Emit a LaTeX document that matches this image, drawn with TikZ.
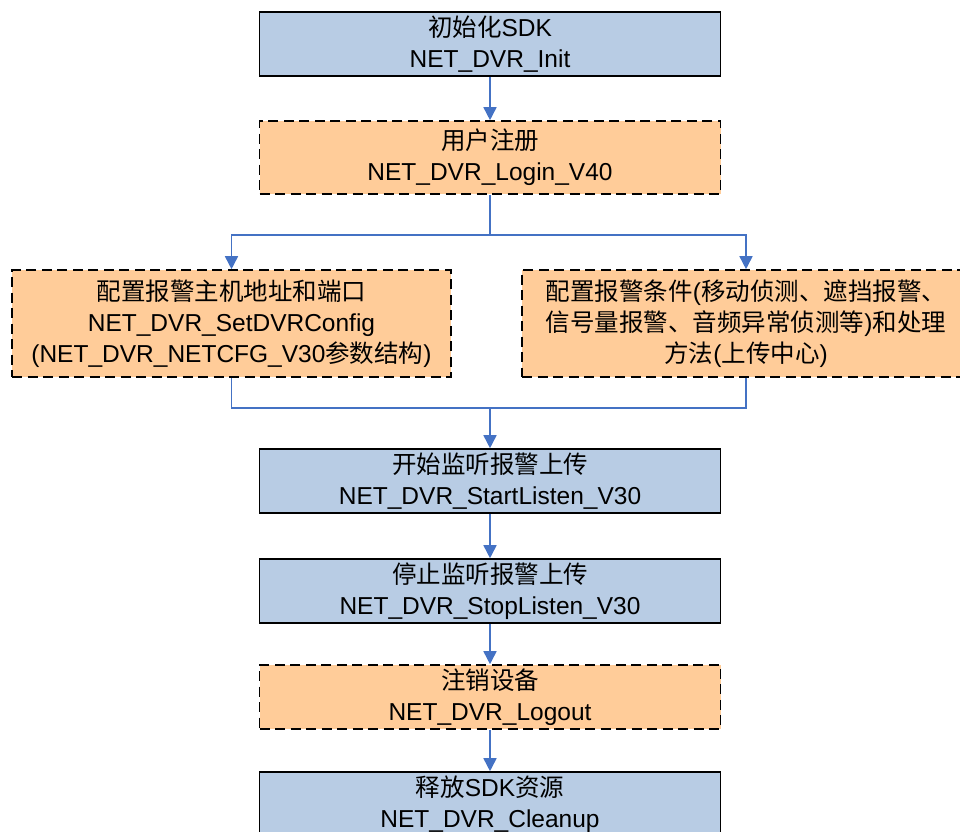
\documentclass[tikz,border=0pt]{standalone}
\usepackage{fontspec}
\setmainfont{Liberation Sans}
\newfontfamily\cjk{Noto Sans CJK SC}
\usetikzlibrary{arrows.meta}
\definecolor{boxblue}{HTML}{B8CCE4}
\definecolor{boxorange}{HTML}{FFCC99}
\definecolor{linkblue}{HTML}{4472C4}
\newcommand{\zh}[1]{{\cjk #1}}
\begin{document}
\begin{tikzpicture}[x=1pt,y=-1pt,
  solidbox/.style={draw=black, line width=1.6pt, fill=boxblue, align=center,
    inner sep=0pt, font=\fontsize{24.5}{31}\selectfont},
  dashbox/.style={solidbox, fill=boxorange, dash pattern=on 10pt off 5.5pt},
  link/.style={draw=linkblue, line width=1.6pt},
  arr/.style={link, -{Triangle[width=13pt,length=13pt]}}]
\useasboundingbox (0,0) rectangle (960,831);
\clip (0,0) rectangle (960,831);

\node[solidbox, minimum width=461pt, minimum height=64pt] (b1) at (490,44)
  {\zh{初始化}SDK\\NET\_DVR\_Init};
\node[dashbox, minimum width=461pt, minimum height=73pt] (b2) at (490,157.5)
  {\zh{用户注册}\\NET\_DVR\_Login\_V40};
\node[dashbox, minimum width=439pt, minimum height=107pt] (b3) at (231.5,323.5)
  {\zh{配置报警主机地址和端口}\\NET\_DVR\_SetDVRConfig\\(NET\_DVR\_NETCFG\_V30\zh{参数结构})};
\node[dashbox, minimum width=448pt, minimum height=107pt] (b3r) at (746,323.5)
  {\zh{配置报警条件}(\zh{移动侦测、遮挡报警、}\\\zh{信号量报警、音频异常侦测等})\zh{和处理}\\\zh{方法}(\zh{上传中心})};
\node[solidbox, minimum width=461pt, minimum height=64pt] (b4) at (490,481)
  {\zh{开始监听报警上传}\\NET\_DVR\_StartListen\_V30};
\node[solidbox, minimum width=461pt, minimum height=64pt] (b5) at (490,591)
  {\zh{停止监听报警上传}\\NET\_DVR\_StopListen\_V30};
\node[dashbox, minimum width=461pt, minimum height=64pt] (b6) at (490,697)
  {\zh{注销设备}\\NET\_DVR\_Logout};
\node[solidbox, minimum width=461pt, minimum height=64pt] (b7) at (490,804)
  {\zh{释放}SDK\zh{资源}\\NET\_DVR\_Cleanup};

\coordinate (sp) at (490,235);
\coordinate (mg) at (490,408);

\draw[arr] (b1.south) -- (b2.north);
\draw[link] (b2.south) -- (sp);
\draw[arr] (sp) -| (b3.north);
\draw[arr] (sp) -| (b3r.north);
\draw[link] (b3.south) |- (mg);
\draw[link] (b3r.south) |- (mg);
\draw[arr] (mg) -- (b4.north);
\draw[arr] (b4.south) -- (b5.north);
\draw[arr] (b5.south) -- (b6.north);
\draw[arr] (b6.south) -- (b7.north);
\end{tikzpicture}
\end{document}
